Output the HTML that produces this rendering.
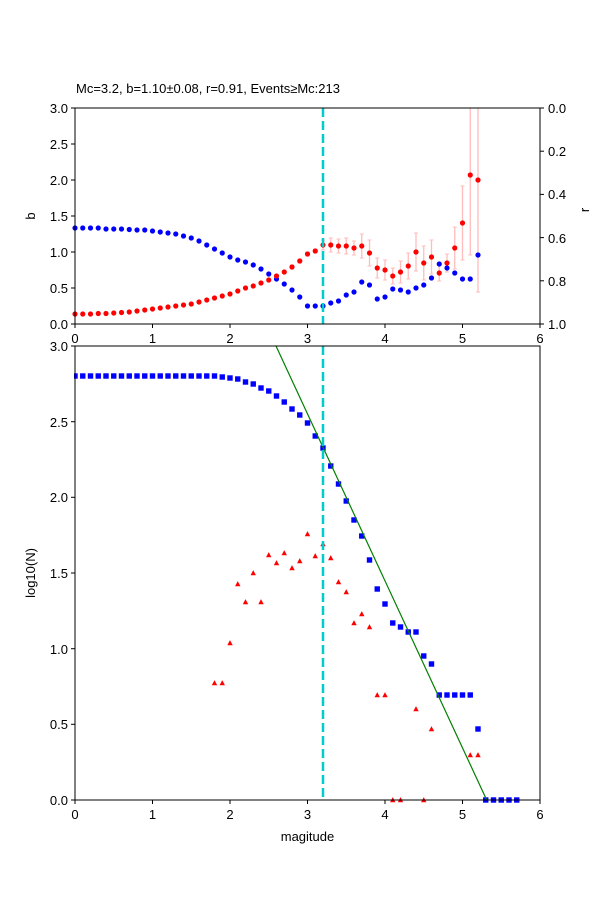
<!DOCTYPE html>
<html><head><meta charset="utf-8"><style>body{margin:0;background:#fff}svg{display:block}text{font-family:"Liberation Sans","DejaVu Sans",sans-serif;font-size:13px;fill:#000}</style></head>
<body>
<svg id="s" width="600" height="900" xmlns="http://www.w3.org/2000/svg">
<rect width="600" height="900" fill="#fff"/>
<text x="76" y="93">Mc=3.2, b=1.10±0.08, r=0.91, Events≥Mc:213</text>
<g id="gtop"></g>
<g id="gbot"></g>
<rect x="75" y="108" width="465" height="216" fill="none" stroke="#000" stroke-width="1"/>
<g stroke="#000">
<line x1="75" y1="324" x2="71" y2="324"/><line x1="75" y1="288" x2="71" y2="288"/><line x1="75" y1="252" x2="71" y2="252"/><line x1="75" y1="216" x2="71" y2="216"/><line x1="75" y1="180" x2="71" y2="180"/><line x1="75" y1="144" x2="71" y2="144"/><line x1="75" y1="108" x2="71" y2="108"/>
<line x1="540" y1="108" x2="544" y2="108"/><line x1="540" y1="151.2" x2="544" y2="151.2"/><line x1="540" y1="194.4" x2="544" y2="194.4"/><line x1="540" y1="237.6" x2="544" y2="237.6"/><line x1="540" y1="280.8" x2="544" y2="280.8"/><line x1="540" y1="324" x2="544" y2="324"/>
<line x1="75" y1="324" x2="75" y2="328"/><line x1="152.5" y1="324" x2="152.5" y2="328"/><line x1="230" y1="324" x2="230" y2="328"/><line x1="307.5" y1="324" x2="307.5" y2="328"/><line x1="385" y1="324" x2="385" y2="328"/><line x1="462.5" y1="324" x2="462.5" y2="328"/><line x1="540" y1="324" x2="540" y2="328"/>
</g>
<g text-anchor="end">
<text x="68" y="329">0.0</text><text x="68" y="293">0.5</text><text x="68" y="257">1.0</text><text x="68" y="221">1.5</text><text x="68" y="185">2.0</text><text x="68" y="149">2.5</text><text x="68" y="113">3.0</text>
</g>
<g>
<text x="548" y="113">0.0</text><text x="548" y="156">0.2</text><text x="548" y="199">0.4</text><text x="548" y="243">0.6</text><text x="548" y="286">0.8</text><text x="548" y="329">1.0</text>
</g>
<g text-anchor="middle">
<text x="75" y="343">0</text><text x="152.5" y="343">1</text><text x="230" y="343">2</text><text x="307.5" y="343">3</text><text x="385" y="343">4</text><text x="462.5" y="343">5</text><text x="540" y="343">6</text>
</g>
<text transform="translate(35,216) rotate(-90)" text-anchor="middle">b</text>
<text transform="translate(589,210) rotate(-90)" text-anchor="middle">r</text>
<rect x="75" y="346" width="465" height="454" fill="none" stroke="#000" stroke-width="1"/>
<g stroke="#000">
<line x1="75" y1="800" x2="71" y2="800"/><line x1="75" y1="724.3" x2="71" y2="724.3"/><line x1="75" y1="648.7" x2="71" y2="648.7"/><line x1="75" y1="573" x2="71" y2="573"/><line x1="75" y1="497.3" x2="71" y2="497.3"/><line x1="75" y1="421.7" x2="71" y2="421.7"/><line x1="75" y1="346" x2="71" y2="346"/>
<line x1="75" y1="800" x2="75" y2="804"/><line x1="152.5" y1="800" x2="152.5" y2="804"/><line x1="230" y1="800" x2="230" y2="804"/><line x1="307.5" y1="800" x2="307.5" y2="804"/><line x1="385" y1="800" x2="385" y2="804"/><line x1="462.5" y1="800" x2="462.5" y2="804"/><line x1="540" y1="800" x2="540" y2="804"/>
</g>
<g text-anchor="end">
<text x="68" y="805">0.0</text><text x="68" y="729">0.5</text><text x="68" y="654">1.0</text><text x="68" y="578">1.5</text><text x="68" y="502">2.0</text><text x="68" y="427">2.5</text><text x="68" y="351">3.0</text>
</g>
<g text-anchor="middle">
<text x="75" y="819">0</text><text x="152.5" y="819">1</text><text x="230" y="819">2</text><text x="307.5" y="819">3</text><text x="385" y="819">4</text><text x="462.5" y="819">5</text><text x="540" y="819">6</text>
<text x="307.5" y="841">magitude</text>
</g>
<text transform="translate(35,573) rotate(-90)" text-anchor="middle">log10(N)</text>
</svg>
<script>
(function(){
var NS="http://www.w3.org/2000/svg";
function el(p,t,a){var e=document.createElementNS(NS,t);for(var k in a)e.setAttribute(k,a[k]);p.appendChild(e);return e;}
function X(m){return 75+m*77.5;}
var gt=document.getElementById('gtop'),gb=document.getElementById('gbot');
var red=[314,314,314,313.5,313.5,313,312.5,312,311,310,309,308,307,306,305,304,302,300,298,296,294,291,288,286,
283,280,276,272,267,261,254,251,245,245,246,246,248,246,253,268,270,276,272,266,252,263,257,273,263,248,223,175,180];
var blue=[228,228,228,228,229,229,229,229.5,230,230,231,232,233,234,236,238,241,245,249,253,257,260,262,265,269,274,279,284,290,297,
306,306,306,303,301,295,292,282,285,299,297,289,290,292,288,285,278,264,268,273,279,279,255];
var err=[];for(var i=0;i<28;i++)err.push(1);err.push(2,2,2,2);
err=err.concat([5,7,7,8,7,12,13,10,10,8,11,13,19,17,17,8,9,21,37,80,112]);
var cp=el(gt,'clipPath',{id:'c1'});el(cp,'rect',{x:75,y:108,width:465,height:216});
var eg=el(gt,'g',{'clip-path':'url(#c1)'});
for(var i=0;i<53;i++){var x=X(i/10);
 el(eg,'line',{x1:x,x2:x,y1:red[i]-err[i],y2:red[i]+err[i],stroke:'#ffbcbc','stroke-width':1.3});
 el(eg,'line',{x1:x-2,x2:x+2,y1:red[i]-err[i],y2:red[i]-err[i],stroke:'#ffbcbc'});
 el(eg,'line',{x1:x-2,x2:x+2,y1:red[i]+err[i],y2:red[i]+err[i],stroke:'#ffbcbc'});}
for(var i=0;i<53;i++){var x=X(i/10);
 el(gt,'circle',{cx:x,cy:blue[i],r:2.6,fill:'#0000ff'});
 el(gt,'circle',{cx:x,cy:red[i],r:2.6,fill:'#ff0000'});}
el(gt,'line',{x1:323,x2:323,y1:108,y2:324,stroke:'#00cccc','stroke-width':2.5,'stroke-dasharray':'9,4'});
var cp2=el(gb,'clipPath',{id:'c2'});el(cp2,'rect',{x:74,y:340,width:467,height:464});
var bb={};for(var i=0;i<=18;i++)bb[i]=376;
var bl=[[19,377],[20,378],[21,379],[22,382],[23,384],[24,388],[25,391],[26,396],[27,402],[28,409],[29,415],[30,423],[31,436],[32,448],[33,466],[34,484],[35,501],[36,520],[37,536],[38,560],[39,589],[40,604],[41,623],[42,627],[43,632],[44,632],[45,656],[46,664],[47,695],[48,695],[49,695],[50,695],[51,695],[52,729],[53,800],[54,800],[55,800],[56,800],[57,800]];
bl.forEach(function(p){bb[p[0]]=p[1];});
var rt=[[18,683],[19,683],[20,643],[21,584],[22,602],[23,573],[24,602],[25,555],[26,563],[27,553],[28,568],[29,561],[30,534],[31,556],[32,544],[33,558],[34,582],[35,592],[36,623],[37,614],[38,627],[39,695],[40,695],[41,800],[42,800],[44,709],[45,800],[46,729],[51,755],[52,755]];
var rg=el(gb,'g',{'clip-path':'url(#c2)'});
rt.forEach(function(p){var x=X(p[0]/10),y=p[1];el(rg,'polygon',{points:(x-2.7)+','+(y+2.3)+' '+(x+2.7)+','+(y+2.3)+' '+x+','+(y-2.9),fill:'#ff0000'});});
for(var k in bb){var x=X(k/10),y=bb[k];el(rg,'rect',{x:x-2.7,y:y-2.7,width:5.4,height:5.4,fill:'#0000ff'});}
var lg=el(gb,'g',{});var cp3=el(gb,'clipPath',{id:'c3'});el(cp3,'rect',{x:75,y:346,width:465,height:454});
el(gb,'line',{x1:276,y1:346,x2:486.7,y2:800,stroke:'#008000','stroke-width':1.2,'clip-path':'url(#c3)'});
el(gb,'line',{x1:323,x2:323,y1:346,y2:800,stroke:'#00cccc','stroke-width':2.5,'stroke-dasharray':'9,4'});
})();
</script>
</body></html>
